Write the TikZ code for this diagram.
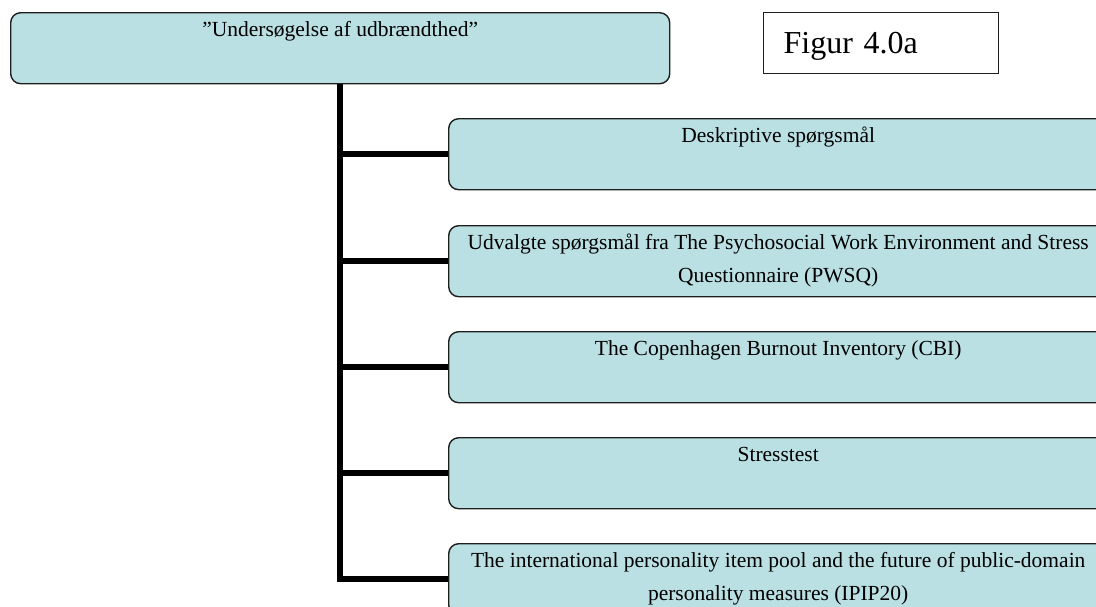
\documentclass[tikz,border=0pt]{standalone}
\usepackage{fontspec}
\setmainfont{Liberation Serif}
\definecolor{boxfill}{RGB}{186,224,227}
\definecolor{boxline}{RGB}{30,30,30}
\begin{document}
\begin{tikzpicture}[x=1pt,y=-1pt,
  box/.style={draw=boxline, line width=1.4pt, fill=boxfill, rounded corners=10pt,
    minimum width=659pt, minimum height=71pt, inner sep=0pt, anchor=north west},
  lbl/.style={anchor=north, inner sep=0pt, font=\fontsize{21.5}{33}\selectfont,
    align=center, text height=15pt, yshift=-9pt},
  lbltwo/.style={lbl, text height=48pt},
  conn/.style={line width=6pt, draw=black},
  figbox/.style={draw=boxline, line width=1.2pt, minimum width=235pt, minimum height=61pt,
    anchor=north west, inner ysep=0pt, inner xsep=20pt, text width=195pt, align=left,
    text height=24pt, text depth=3pt, font=\fontsize{32}{38}\selectfont}]
\useasboundingbox (0,0) rectangle (1096,606);
\clip (0,0) rectangle (1096,606);

\node[box, label={[lbl]north:{”Undersøgelse af udbrændthed”}}] (top) at (10,12) {};
\node[figbox] (fig) at (763,12) {Figur 4.0a};

\node[box, label={[lbl]north:{Deskriptive spørgsmål}}] (b1) at (448,118) {};
\node[box, label={[lbltwo]north:{Udvalgte spørgsmål fra The Psychosocial Work Environment and Stress\\Questionnaire (PWSQ)}}] (b2) at (448,225) {};
\node[box, label={[lbl]north:{The Copenhagen Burnout Inventory (CBI)}}] (b3) at (448,331) {};
\node[box, label={[lbl]north:{Stresstest}}] (b4) at (448,437) {};
\node[box, label={[lbltwo]north:{The international personality item pool and the future of public-domain\\personality measures (IPIP20)}}] (b5) at (448,543) {};

\foreach \i in {1,...,5} \draw[conn] (top.south) |- (b\i.west);
\end{tikzpicture}
\end{document}
